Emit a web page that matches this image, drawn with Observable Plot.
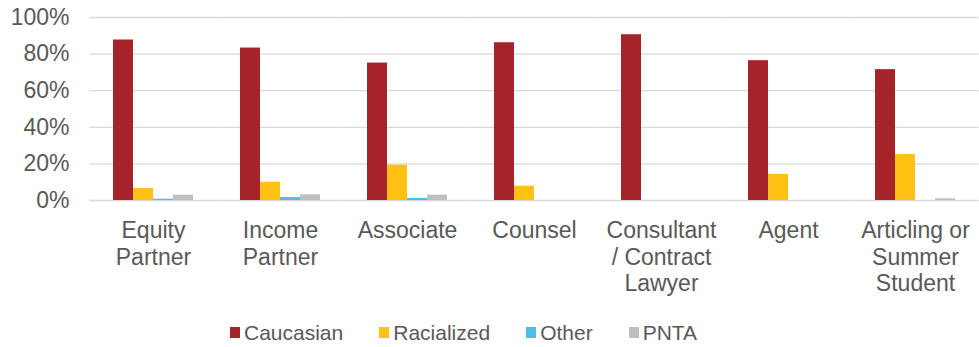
<!DOCTYPE html>
<html>
<head>
<meta charset="utf-8">
<script src="https://cdn.jsdelivr.net/npm/d3@7"></script>
<script src="https://cdn.jsdelivr.net/npm/@observablehq/plot@0.6"></script>
<style>
  body { margin: 0; background: #fff; font-family: "Liberation Sans", Arial, sans-serif; }
  #legend { display: flex; justify-content: flex-start; gap: 36px; font-size: 21px; color: #595959; height: 37px; align-items: center; padding-left: 230px; padding-top: 3px; }
  #legend div { display: flex; align-items: center; }
  #legend span.sw { display: inline-block; width: 10px; height: 11px; margin-right: 4px; }
</style>
</head>
<body>
<div id="chart"></div>
<div id="legend"></div>
<script>
const categories = ["Equity Partner", "Income Partner", "Associate", "Counsel", "Consultant / Contract Lawyer", "Agent", "Articling or Summer Student"];
const categoryLabels = ["Equity\nPartner", "Income\nPartner", "Associate", "Counsel", "Consultant\n/ Contract\nLawyer", "Agent", "Articling or\nSummer\nStudent"];
const seriesNames = ["Caucasian", "Racialized", "Other", "PNTA"];
const seriesColors = ["#A6232A", "#FFC114", "#4FBDEC", "#BFBFBF"];
const caucasian = [87.7, 83.3, 75.1, 86.2, 90.6, 76.4, 71.5];
const racialized = [6.5, 10.0, 19.3, 7.8, 0, 14.3, 25.1];
const other = [0.7, 1.6, 1.1, 0, 0, 0, 0];
const pnta = [2.9, 3.1, 2.9, 0, 0, 0, 0.9];
const yTicks = [0, 20, 40, 60, 80, 100];

const seriesValues = [caucasian, racialized, other, pnta];
const data = [];
categories.forEach((c, i) => {
  seriesNames.forEach((s, j) => data.push({category: c, series: s, value: seriesValues[j][i]}));
});
const labelOf = new Map(categories.map((c, i) => [c, categoryLabels[i]]));

const chart = Plot.plot({
  width: 979,
  height: 311,
  marginTop: 17,
  marginBottom: 111,
  marginLeft: 90,
  marginRight: 0,
  style: {fontFamily: "Liberation Sans, Arial, sans-serif", color: "#595959", background: "#fff"},
  fx: {domain: categories, paddingInner: 0.37, paddingOuter: 0.185, label: null},
  x: {domain: seriesNames, padding: 0, axis: null},
  y: {domain: [0, 100], label: null},
  color: {domain: seriesNames, range: seriesColors},
  marks: [
    Plot.ruleY(yTicks, {y: d => d, stroke: "#D9D9D9", strokeWidth: 1.3, insetLeft: -23.6, insetRight: -23.6}),
    Plot.barY(data, {fx: "category", x: "series", y: "value", fill: "series"}),
    Plot.axisY({ticks: yTicks, tickFormat: d => d + "%", tickSize: 0, tickPadding: 44, fontSize: 23, fill: "#595959", label: null}),
    Plot.axisFx({anchor: "bottom", tickFormat: d => labelOf.get(d), tickSize: 0, tickPadding: 18, fontSize: 23, lineHeight: 1.17, fill: "#595959", label: null})
  ]
});
document.getElementById("chart").appendChild(chart);

const legend = document.getElementById("legend");
seriesNames.forEach((s, i) => {
  const item = document.createElement("div");
  item.innerHTML = `<span class="sw" style="background:${seriesColors[i]}"></span>${s}`;
  legend.appendChild(item);
});
</script>
</body>
</html>
